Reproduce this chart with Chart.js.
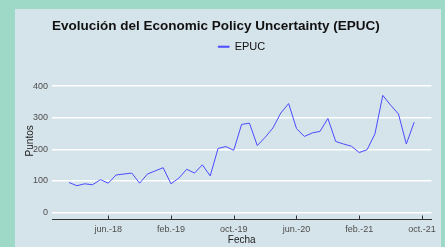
<!DOCTYPE html>
<html>
<head>
<meta charset="utf-8">
<script src="https://cdn.jsdelivr.net/npm/chart.js@4"></script>
<style>
  html, body { margin:0; padding:0; background:#9ed8c6; width:445px; height:247px; overflow:hidden }
  #panel { position:absolute; left:15px; top:9px; width:426px; height:238px; background:#d5e3ea }
  canvas { display:block }
</style>
</head>
<body>
<div id="panel"><canvas id="chart" width="426" height="238"></canvas></div>
<script>
// data (monthly, from the picture)
const months = [
  '2018-01','2018-02','2018-03','2018-04','2018-05','2018-06','2018-07','2018-08','2018-09','2018-10','2018-11','2018-12',
  '2019-01','2019-02','2019-03','2019-04','2019-05','2019-06','2019-07','2019-08','2019-09','2019-10','2019-11','2019-12',
  '2020-01','2020-02','2020-03','2020-04','2020-05','2020-06','2020-07','2020-08','2020-09','2020-10','2020-11','2020-12',
  '2021-01','2021-02','2021-03','2021-04','2021-05','2021-06','2021-07','2021-08','2021-09'
]
const epuc = [
  95, 85, 91, 88, 104, 93, 119, 122, 125, 93, 122, 132,
  142, 91, 109, 137, 125, 151, 116, 203, 209, 197, 279, 283,
  212, 238, 268, 315, 345, 266, 241, 252, 257, 298, 225, 217,
  210, 190, 199, 249, 371, 340, 312, 217, 286
]
const tickMonths = ['2018-06','2019-02','2019-10','2020-06','2021-02','2021-10']
const tickLabels = ['jun.-18','feb.-19','oct.-19','jun.-20','feb.-21','oct.-21']
const yTicks = [0, 100, 200, 300, 400]

// helper: months since jan 2018
function monthIndex(s){ const [y,m] = s.split('-').map(Number); return (y-2018)*12 + (m-1) }

const FONT = "'Liberation Sans', Arial, sans-serif"
const TXT = '#4d4d4d'

// small tick marks pointing up from the x axis line
const upTicks = {
  id: 'upTicks',
  afterDraw(chart){
    const x = chart.scales.x, ctx = chart.ctx, b = chart.chartArea.bottom
    ctx.save()
    ctx.strokeStyle = '#333'
    ctx.lineWidth = 1
    x.ticks.forEach(t=>{
      const px = Math.round(x.getPixelForValue(t.value)) + 0.5
      ctx.beginPath(); ctx.moveTo(px, b); ctx.lineTo(px, b - 4); ctx.stroke()
    })
    ctx.restore()
  }
}

const ctx = document.getElementById('chart').getContext('2d')
new Chart(ctx, {
  type: 'line',
  data: {
    datasets: [{
      label: 'EPUC',
      data: months.map((m,i)=>({x: monthIndex(m), y: epuc[i]})),
      borderColor: '#4b4bff',
      backgroundColor: '#4b4bff',
      borderWidth: 1,
      pointRadius: 0,
      tension: 0,
      fill: false
    }]
  },
  options: {
    responsive: false,
    animation: false,
    layout: { padding: { left: 0, right: 9, top: 0, bottom: 0 } },
    plugins: {
      title: {
        display: true,
        text: 'Evolución del Economic Policy Uncertainty (EPUC)',
        align: 'start',
        fullSize: false,
        color: '#111',
        font: { family: FONT, size: 13.5, weight: 'bold' },
        padding: { top: 9, bottom: 2 }
      },
      legend: {
        display: true,
        fullSize: false,
        labels: {
          color: '#111',
          font: { family: FONT, size: 11 },
          boxWidth: 11,
          boxHeight: 1,
          padding: 5
        }
      },
      tooltip: { enabled: false }
    },
    scales: {
      x: {
        type: 'linear',
        min: -2.17,
        max: 46.2,
        afterBuildTicks: s => { s.ticks = tickMonths.map(m=>({value: monthIndex(m)})) },
        afterFit: s => { s.height = 27.5 },
        ticks: {
          color: TXT,
          font: { family: FONT, size: 9 },
          padding: 5,
          maxRotation: 0,
          callback: v => tickLabels[tickMonths.map(monthIndex).indexOf(v)]
        },
        grid: { display: true, drawOnChartArea: false, drawTicks: false },
        border: { display: true, color: '#333', width: 1 },
        title: { display: true, text: 'Fecha', color: '#222', font: { family: FONT, size: 10 }, padding: { top: 0, bottom: 1 } }
      },
      y: {
        min: -22,
        max: 476,
        afterBuildTicks: s => { s.ticks = yTicks.map(v=>({value: v})) },
        afterFit: s => { s.width = 37 },
        ticks: { color: TXT, font: { family: FONT, size: 9 }, padding: 4 },
        grid: { color: '#ffffff', lineWidth: 1.5, drawTicks: false },
        border: { display: false },
        title: { display: true, text: 'Puntos', color: '#222', font: { family: FONT, size: 10 }, padding: { top: 9, bottom: 0 } }
      }
    }
  },
  plugins: [upTicks]
})
</script>
</body>
</html>
